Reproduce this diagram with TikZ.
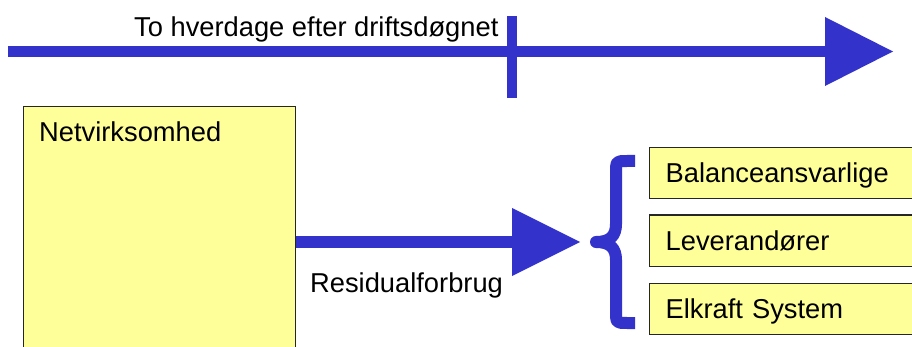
\documentclass[tikz,border=0pt]{standalone}
\usepackage{fontspec}
\setmainfont{Liberation Sans}
\usetikzlibrary{arrows.meta}
\definecolor{arrowblue}{HTML}{3333CC}
\definecolor{boxyellow}{HTML}{FFFF99}
\begin{document}
\begin{tikzpicture}[x=1pt,y=-1pt,
  txt/.style={font=\fontsize{27.3}{32}\selectfont, inner sep=0pt, anchor=base west, text=black},
  yellowbox/.style={draw=black!85, line width=1.3pt, fill=boxyellow, rectangle, anchor=north west},
  sidebox/.style={yellowbox, minimum width=290pt, minimum height=51pt, text width=258pt, align=left,
    inner xsep=16pt, inner ysep=0pt, text height=19pt, text depth=0pt, font=\fontsize{27.3}{32}\selectfont},
  bluearrow/.style={draw=arrowblue, line width=11.5pt, line cap=butt,
    -{Triangle[length=68pt,width=69pt,line width=0pt]}},
  bracestyle/.style={draw=arrowblue, line width=12pt, line join=round, line cap=butt}]
\useasboundingbox (0,0) rectangle (912,347);
\clip (0,0) rectangle (912,347);

% timeline
\coordinate (tlstart) at (8,51.5);
\coordinate (tlend) at (893,51.5);
\coordinate (ticktop) at (512,16);
\coordinate (tickbot) at (512,98);
\draw[bluearrow] (tlstart) -- (tlend);
\draw[draw=arrowblue, line width=10.5pt] (ticktop) -- (tickbot);
\node[txt] (tllabel) at (134,37) {To hverdage efter driftsdøgnet};

% Netvirksomhed
\node[yellowbox, minimum width=272pt, minimum height=300pt] (net) at (23,106) {};
\node[txt] (netlabel) at (39,142) {Netvirksomhed};

% right boxes
\node[sidebox] (bal) at (649,147) {Balanceansvarlige};
\node[sidebox] (lev) at (649,214.5) {Leverandører};
\node[sidebox] (elk) at (649,283) {Elkraft System};

% residual arrow
\coordinate (restip) at (580,242);
\draw[bluearrow, -{Triangle[length=68pt,width=68pt,line width=0pt]}] (net.east |- restip) -- (restip);
\node[txt] (reslabel) at (310,292) {Residualforbrug};

% brace
\draw[bracestyle] (635,161) -- (627,161) .. controls (616,161) .. (616,173) -- (616,224)
  .. controls (616,236) and (610,242) .. (596,242)
  .. controls (610,242) and (616,248) .. (616,260) -- (616,311)
  .. controls (616,323) .. (627,323) -- (635,323);
\end{tikzpicture}
\end{document}
